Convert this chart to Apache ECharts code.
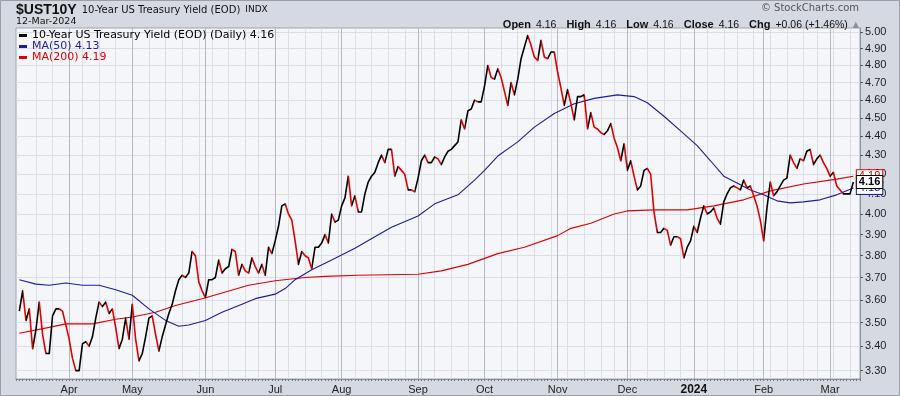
<!DOCTYPE html>
<html><head><meta charset="utf-8">
<script src="https://cdn.jsdelivr.net/npm/echarts@6/dist/echarts.min.js"></script>
<style>html,body{margin:0;padding:0;background:#d5d9e2}#c{width:900px;height:396px}</style>
</head><body><div id="c"></div><script>
// ---- calendar (NYSE trading days) ----
const startDate = '2023-03-13';
const endDate = '2024-03-12';
const holidays = ['2023-04-07','2023-05-29','2023-06-19','2023-07-04','2023-09-04','2023-11-23','2023-12-25','2024-01-01','2024-01-15','2024-02-19'];

// ---- daily closes, one array per month ----
const yMar23 = [3.55,3.64,3.51,3.56,3.39,3.47,3.59,3.45,3.37,3.37,3.53,3.56,3.56,3.55,3.49];
const yApr23 = [3.43,3.35,3.30,3.30,3.41,3.42,3.40,3.44,3.52,3.59,3.57,3.59,3.54,3.56,3.48,3.39,3.43,3.52,3.43];
const yMay23 = [3.58,3.43,3.34,3.37,3.44,3.52,3.53,3.45,3.38,3.44,3.49,3.54,3.58,3.64,3.69,3.71,3.70,3.72,3.82,3.80,3.68,3.64];
const yJun23 = [3.61,3.69,3.69,3.70,3.78,3.72,3.74,3.75,3.83,3.82,3.71,3.76,3.73,3.72,3.79,3.75,3.72,3.76,3.71,3.84,3.81];
const yJul23 = [3.87,3.94,4.04,4.05,4.00,3.97,3.87,3.76,3.82,3.80,3.79,3.74,3.84,3.84,3.86,3.90,3.86,4.00,3.96,3.97];
const yAug23 = [4.04,4.08,4.19,4.04,4.09,4.01,4.01,4.10,4.16,4.19,4.21,4.26,4.30,4.26,4.33,4.33,4.19,4.24,4.22,4.20,4.12,4.12,4.11];
const ySep23 = [4.18,4.27,4.30,4.26,4.26,4.29,4.28,4.25,4.29,4.32,4.33,4.35,4.37,4.49,4.44,4.54,4.55,4.60,4.59,4.59];
const yOct23 = [4.68,4.80,4.73,4.72,4.78,4.73,4.65,4.57,4.70,4.63,4.72,4.84,4.91,4.98,4.92,4.85,4.83,4.95,4.85,4.84,4.88,4.88];
const yNov23 = [4.76,4.67,4.57,4.66,4.58,4.49,4.62,4.62,4.63,4.44,4.53,4.45,4.44,4.42,4.41,4.43,4.47,4.39,4.34,4.27,4.36];
const yDec23 = [4.22,4.27,4.19,4.12,4.14,4.22,4.23,4.20,4.01,3.91,3.91,3.93,3.92,3.85,3.89,3.89,3.88,3.79,3.84,3.87];
const yJan24 = [3.94,3.91,3.98,4.04,4.00,4.01,4.03,3.98,3.95,4.06,4.10,4.13,4.14,4.13,4.12,4.17,4.13,4.14,4.09,4.04,3.97];
const yFeb24 = [3.87,4.03,4.16,4.09,4.11,4.14,4.17,4.18,4.30,4.26,4.23,4.28,4.27,4.32,4.33,4.25,4.28,4.30,4.26,4.23];
const yMar24 = [4.19,4.21,4.14,4.12,4.10,4.10,4.10,4.16];

// ---- moving averages (trading-day index, value) ----
const ma50At  = [0,5,9,14,19,24,29,34,39,44,48,51,56,61,67,71,77,80,83,88,94,101,107,112,120,125,132,137,140,144,150,155,161,167,173,180,185,189,194,199,204,208,212,216,220,224,228,232,236,241,246,251];
const ma50Val = [3.69,3.67,3.665,3.675,3.665,3.665,3.645,3.62,3.56,3.51,3.485,3.49,3.51,3.545,3.58,3.605,3.625,3.65,3.69,3.735,3.78,3.835,3.89,3.935,3.99,4.05,4.095,4.17,4.22,4.295,4.37,4.45,4.525,4.58,4.61,4.63,4.62,4.585,4.51,4.43,4.35,4.27,4.19,4.155,4.12,4.095,4.065,4.055,4.06,4.07,4.095,4.13];
const ma200At  = [0,9,14,22,29,34,41,47,55,61,69,77,86,92,102,120,127,135,144,152,162,166,172,179,183,191,201,209,218,226,236,246,251];
const ma200Val = [3.455,3.48,3.495,3.495,3.515,3.525,3.545,3.575,3.605,3.63,3.665,3.685,3.70,3.705,3.71,3.715,3.73,3.76,3.81,3.84,3.895,3.93,3.955,4.00,4.015,4.02,4.02,4.04,4.07,4.115,4.15,4.175,4.19];

// ---- axis ticks ----
const yTicks = [3.3,3.4,3.5,3.6,3.7,3.8,3.9,4.0,4.1,4.2,4.3,4.4,4.5,4.6,4.7,4.8,4.9,5.0];
const monthNames = ['Jan','Feb','Mar','Apr','May','Jun','Jul','Aug','Sep','Oct','Nov','Dec'];

function tradingDays(s, e, hol) {
  const out = []; let d = new Date(s + 'T00:00:00Z'); const end = new Date(e + 'T00:00:00Z');
  while (d <= end) {
    const wd = d.getUTCDay(); const str = d.toISOString().slice(0, 10);
    if (wd !== 0 && wd !== 6 && hol.indexOf(str) < 0) out.push(str);
    d = new Date(d.getTime() + 86400000);
  }
  return out;
}
const dates = tradingDays(startDate, endDate, holidays);
const values = [].concat(yMar23,yApr23,yMay23,yJun23,yJul23,yAug23,ySep23,yOct23,yNov23,yDec23,yJan24,yFeb24,yMar24);
const PAD = 1;
const cats = ['p0'].concat(dates, ['p1','p2']);

const monthStart = new Set(), weekStart = new Set();
dates.forEach((d, i) => {
  if (i === 0) return;
  const p = dates[i - 1];
  if (d.slice(5, 7) !== p.slice(5, 7)) monthStart.add(i + PAD);
  else {
    const wd = new Date(d + 'T00:00:00Z').getUTCDay(), pw = new Date(p + 'T00:00:00Z').getUTCDay();
    if (wd < pw) weekStart.add(i + PAD);
  }
});

const n = values.length;
const last = values[n - 1], prev = values[n - 2];
const chg = last - prev, pct = chg / prev * 100;
const ma50Last = ma50Val[ma50Val.length - 1], ma200Last = ma200Val[ma200Val.length - 1];
const priceName = '10-Year US Treasury Yield (EOD) (Daily) ' + last.toFixed(2);
const ma50Name = 'MA(50) ' + ma50Last.toFixed(2);
const ma200Name = 'MA(200) ' + ma200Last.toFixed(2);

// segment colours: black when rising, red when falling
const pieces = [];
for (let i = 1; i < n; i++) {
  const c = values[i] >= values[i - 1] ? '#000000' : '#e00000';
  const lp = pieces[pieces.length - 1];
  if (lp && lp.color === c && lp.lte === i - 1 + PAD) lp.lte = i + PAD;
  else pieces.push({ gt: i - 1 + PAD, lte: i + PAD, color: c });
}

const BLUE = '#1c1ca0', RED = '#e00000';
const tag = (txt, col, bold) => ({
  symbol: 'circle', symbolSize: 1, itemStyle: { color: 'rgba(0,0,0,0)' },
  label: { show: true, position: 'right', distance: 3, formatter: txt, color: col,
    fontFamily: 'Liberation Sans', fontSize: 11, fontWeight: bold ? 'bold' : 'normal',
    backgroundColor: '#ffffff', borderColor: col, borderWidth: 1, padding: [1, 2, 0, 2] }
});

const chart = echarts.init(document.getElementById('c'), null, { renderer: 'canvas' });
chart.setOption({
  animation: false,
  backgroundColor: '#d5d9e2',
  title: [
    { left: 16, top: 1, padding: 0,
      text: '{a|$UST10Y} {b|10-Year US Treasury Yield (EOD)} {c|INDX}',
      textStyle: { fontWeight: 'normal', rich: {
        a: { fontFamily: 'Liberation Sans', fontWeight: 'bold', fontSize: 14, color: '#111' },
        b: { fontFamily: 'DejaVu Sans', fontWeight: 'normal', fontSize: 10, color: '#111' },
        c: { fontFamily: 'DejaVu Sans', fontWeight: 'normal', fontSize: 9, color: '#111' } } } },
    { left: 16, top: 17, padding: 0, text: '12-Mar-2024',
      textStyle: { fontFamily: 'DejaVu Sans', fontSize: 9.5, fontWeight: 'normal', color: '#111' } },
    { right: 41, top: 16, padding: 0,
      text: '{k|Open} {v|' + last.toFixed(2) + '}  {k|High} {v|' + last.toFixed(2) + '}  {k|Low} {v|' + last.toFixed(2) +
            '}  {k|Close} {v|' + last.toFixed(2) + '}  {k|Chg} {v|' + (chg >= 0 ? '+' : '') + chg.toFixed(2) +
            ' (' + (pct >= 0 ? '+' : '') + pct.toFixed(2) + '%)} {t|▲}',
      textStyle: { fontWeight: 'normal', rich: {
        k: { fontFamily: 'Liberation Sans', fontWeight: 'bold', fontSize: 11, color: '#111' },
        v: { fontFamily: 'Liberation Sans', fontWeight: 'normal', fontSize: 10.5, color: '#111' },
        t: { fontFamily: 'DejaVu Sans', fontWeight: 'normal', fontSize: 8, color: '#8a8e98' } } } },
    { right: 41, top: 3, padding: 0, text: '© StockCharts.com',
      textStyle: { fontFamily: 'DejaVu Sans', fontSize: 10, fontWeight: 'normal', color: '#555' } }
  ],
  legend: {
    orient: 'vertical', left: 19, top: 30, padding: 0, itemGap: 0, itemWidth: 8, itemHeight: 3,
    icon: 'rect', selectedMode: false,
    textStyle: { fontFamily: 'DejaVu Sans', fontSize: 11, lineHeight: 11 },
    data: [
      { name: priceName, itemStyle: { color: '#000' }, textStyle: { color: '#000' } },
      { name: ma50Name, itemStyle: { color: BLUE }, textStyle: { color: BLUE } },
      { name: ma200Name, itemStyle: { color: RED }, textStyle: { color: RED } }
    ]
  },
  grid: { left: 16, right: 40, top: 28, bottom: 16, show: true, backgroundColor: '#f5f6fa', borderColor: '#9da1aa', borderWidth: 1 },
  visualMap: { type: 'piecewise', show: false, dimension: 0, seriesIndex: 2, pieces: pieces, outOfRange: { color: '#000' } },
  xAxis: [
    { type: 'category', data: cats, boundaryGap: false,
      axisLine: { show: true, lineStyle: { color: '#8f939c' } },
      axisTick: { show: true, interval: 0, length: 2, lineStyle: { color: '#777' } },
      axisLabel: { interval: (i) => monthStart.has(i), margin: 5,
        fontFamily: 'Liberation Sans', fontSize: 11, color: '#222',
        formatter: (v) => { const m = +v.slice(5, 7); return m === 1 ? '{y|' + v.slice(0, 4) + '}' : monthNames[m - 1]; },
        rich: { y: { fontFamily: 'Liberation Sans', fontWeight: 'bold', fontSize: 12, color: '#111' } } },
      splitLine: { show: true, interval: (i) => monthStart.has(i), lineStyle: { color: '#b6b9c3', width: 1 } } },
    { type: 'category', data: cats, boundaryGap: false, position: 'top',
      axisLine: { show: false }, axisTick: { show: false }, axisLabel: { show: false },
      splitLine: { show: true, interval: (i) => weekStart.has(i), lineStyle: { color: '#dcdee5', width: 1 } } }
  ],
  yAxis: {
    type: 'log', logBase: 10, position: 'right', min: 3.2664, max: 5.0259,
    axisLine: { show: true, lineStyle: { color: '#8f939c' } },
    axisTick: { show: true, length: 3, customValues: yTicks, lineStyle: { color: '#555' } },
    axisLabel: { customValues: yTicks, margin: 5, formatter: (v) => (+v).toFixed(2),
      fontFamily: 'Liberation Sans', fontSize: 11, color: '#222' },
    splitLine: { show: true, lineStyle: { color: '#dcdee5', width: 1 } }
  },
  series: [
    { name: ma200Name, type: 'line', xAxisIndex: 0, symbol: 'none', silent: true, z: 2,
      data: ma200At.map((k, j) => [dates[k], ma200Val[j]]),
      lineStyle: { color: RED, width: 1.1 }, itemStyle: { color: RED },
      markPoint: { z: 5, data: [Object.assign({ coord: [dates[n - 1], ma200Last] }, tag(ma200Last.toFixed(2), RED, false))] } },
    { name: ma50Name, type: 'line', xAxisIndex: 0, symbol: 'none', silent: true, z: 3,
      data: ma50At.map((k, j) => [dates[k], ma50Val[j]]),
      lineStyle: { color: BLUE, width: 1.1 }, itemStyle: { color: BLUE },
      markPoint: { z: 6, data: [Object.assign({ coord: [dates[n - 1], ma50Last] }, tag(ma50Last.toFixed(2), BLUE, false))] } },
    { name: priceName, type: 'line', xAxisIndex: 0, symbol: 'none', silent: true, z: 4,
      data: dates.map((d, i) => [d, values[i]]),
      lineStyle: { width: 1.6, join: 'round' }, itemStyle: { color: '#000' },
      markPoint: { z: 7, data: [Object.assign({ coord: [dates[n - 1], last] }, tag(last.toFixed(2), '#000', true))] } }
  ],
  graphic: [
    { type: 'rect', z: 100, silent: true, shape: { x: 0.5, y: 0.5, width: 899, height: 395 },
      style: { fill: 'none', stroke: '#9a9ea8', lineWidth: 1 } }
  ]
});
</script></body></html>
